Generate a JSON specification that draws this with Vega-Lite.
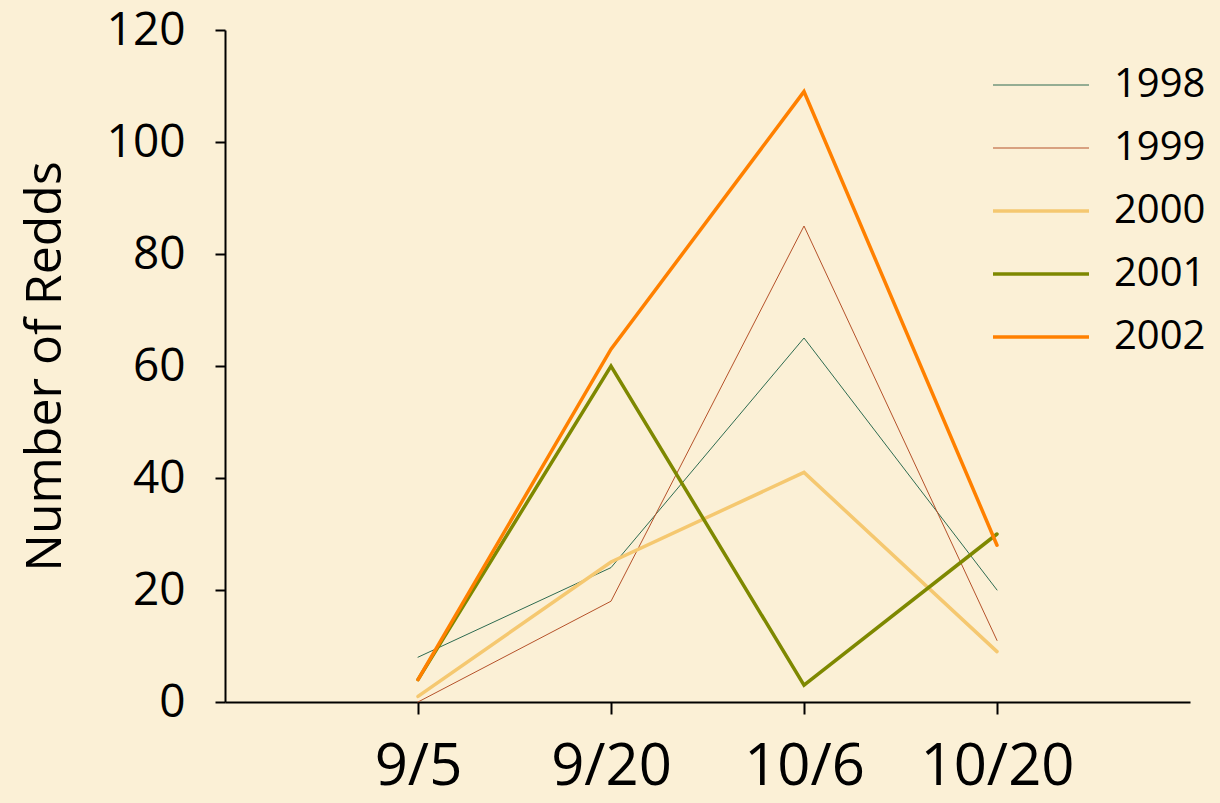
{
  "$schema": "https://vega.github.io/schema/vega-lite/v6.json",
  "width": 965,
  "height": 672,
  "autosize": {"type": "none"},
  "padding": {"left": 225, "top": 30, "right": 30, "bottom": 101},
  "background": "#FBF0D6",
  "config": {
    "view": {"stroke": null},
    "font": "Open Sans",
    "axis": {"domainColor": "black", "tickColor": "black", "labelColor": "black", "titleColor": "black", "grid": false, "domainWidth": 2, "tickWidth": 2},
    "legend": {"labelColor": "black"}
  },
  "data": {
    "values": [
      {"date": "9/5", "year": "1998", "redds": 8},
      {"date": "9/20", "year": "1998", "redds": 24},
      {"date": "10/6", "year": "1998", "redds": 65},
      {"date": "10/20", "year": "1998", "redds": 20},
      {"date": "9/5", "year": "1999", "redds": 0},
      {"date": "9/20", "year": "1999", "redds": 18},
      {"date": "10/6", "year": "1999", "redds": 85},
      {"date": "10/20", "year": "1999", "redds": 11},
      {"date": "9/5", "year": "2000", "redds": 1},
      {"date": "9/20", "year": "2000", "redds": 25},
      {"date": "10/6", "year": "2000", "redds": 41},
      {"date": "10/20", "year": "2000", "redds": 9},
      {"date": "9/5", "year": "2001", "redds": 4},
      {"date": "9/20", "year": "2001", "redds": 60},
      {"date": "10/6", "year": "2001", "redds": 3},
      {"date": "10/20", "year": "2001", "redds": 30},
      {"date": "9/5", "year": "2002", "redds": 4},
      {"date": "9/20", "year": "2002", "redds": 63},
      {"date": "10/6", "year": "2002", "redds": 109},
      {"date": "10/20", "year": "2002", "redds": 28}
    ]
  },
  "encoding": {
    "x": {
      "field": "date", "type": "ordinal",
      "sort": ["9/5", "9/20", "10/6", "10/20"],
      "scale": {"type": "point", "padding": 1},
      "axis": {"title": null, "labelAngle": 0, "labelFontSize": 58, "tickSize": 12, "labelPadding": 24}
    },
    "y": {
      "field": "redds", "type": "quantitative",
      "scale": {"domain": [0, 120], "nice": false},
      "axis": {"values": [0, 20, 40, 60, 80, 100, 120], "title": "Number of Redds", "labelFontSize": 46, "tickSize": 10, "labelPadding": 30, "titleFontSize": 50, "titleFontWeight": "normal", "titlePadding": 36}
    },
    "color": {
      "field": "year", "type": "nominal",
      "scale": {"domain": ["1998", "1999", "2000", "2001", "2002"], "range": ["#2E6B50", "#B5522A", "#F5C870", "#7E8800", "#FF8000"]},
      "legend": {
        "title": null, "orient": "none", "legendX": 796, "legendY": 35,
        "symbolType": "stroke", "symbolSize": 9216, "labelFontSize": 40, "labelOffset": 53, "padding": 0, "rowPadding": 23,
        "encode": {"symbols": {"enter": {"strokeWidth": {"signal": "datum.value == '1998' || datum.value == '1999' ? 1 : 3.5"}}, "update": {"strokeWidth": {"signal": "datum.value == '1998' || datum.value == '1999' ? 1 : 3.5"}}}}
      }
    }
  },
  "layer": [
    {
      "transform": [{"filter": "datum.year == '1998' || datum.year == '1999'"}],
      "mark": {"type": "line", "strokeCap": "round", "strokeWidth": 1}
    },
    {
      "transform": [{"filter": "datum.year != '1998' && datum.year != '1999'"}],
      "mark": {"type": "line", "strokeCap": "round", "strokeWidth": 3.5}
    }
  ]
}
